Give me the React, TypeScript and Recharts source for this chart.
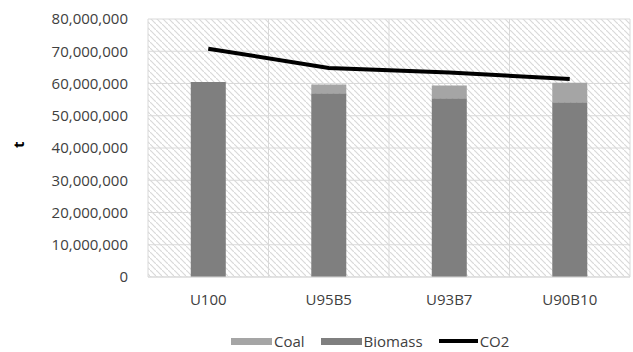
import { ComposedChart, Bar, Line, XAxis, YAxis, CartesianGrid } from 'recharts';

const scenarios = ['U100', 'U95B5', 'U93B7', 'U90B10'];
const biomass = [60500000, 57000000, 55400000, 54200000];
const coal = [0, 2700000, 4000000, 6000000];
const co2 = [70800000, 64800000, 63400000, 61400000];
const yTicks = [0, 10000000, 20000000, 30000000, 40000000, 50000000, 60000000, 70000000, 80000000];

const data = scenarios.map((name, i) => ({
  name,
  Biomass: biomass[i],
  Coal: coal[i],
  CO2: co2[i],
}));

const font = '"Open Sans", sans-serif';
const textColor = '#404040';

function LegendRow() {
  const item = (label: string, swatch: React.ReactNode) => (
    <div style={{ display: 'flex', alignItems: 'center', marginRight: 16 }}>
      {swatch}
      <span style={{ marginLeft: 2 }}>{label}</span>
    </div>
  );
  return (
    <div
      style={{
        position: 'absolute',
        top: 331,
        left: 231,
        display: 'flex',
        fontFamily: font,
        fontSize: 15,
        color: textColor,
      }}
    >
      {item('Coal', <div style={{ width: 41, height: 7, background: '#a5a5a5' }} />)}
      {item('Biomass', <div style={{ width: 41, height: 7, background: '#7f7f7f' }} />)}
      {item('CO2', <div style={{ width: 39, height: 4, background: '#000' }} />)}
    </div>
  );
}

export default function App() {
  return (
    <div style={{ position: 'absolute', top: 0, left: 0, width: 633, height: 352, background: '#fff' }}>
      <ComposedChart
        width={633}
        height={352}
        data={data}
        margin={{ top: 19, right: 3, bottom: 0, left: 0 }}
        barCategoryGap="35.5%"
      >
        <defs>
          <pattern id="hatch" patternUnits="userSpaceOnUse" width="6" height="6">
            <path d="M-1,-1 l2,2 M0,0 l6,6 M5,5 l2,2" stroke="#d9d9d9" strokeWidth={1.2} />
          </pattern>
        </defs>
        <CartesianGrid
          fill="url(#hatch)"
          stroke="#d9d9d9"
          strokeWidth={1}
          verticalCoordinatesGenerator={({ offset }: any) =>
            [0, 1, 2, 3, 4].map((k) => offset.left + (offset.width * k) / 4)
          }
        />
        <XAxis
          dataKey="name"
          height={75}
          axisLine={{ stroke: '#d9d9d9' }}
          tickLine={false}
          tickSize={0}
          tickMargin={17}
          tick={{ fontFamily: font, fontSize: 15, fill: textColor }}
        />
        <YAxis
          width={148}
          domain={[0, 80000000]}
          ticks={yTicks}
          interval={0}
          axisLine={false}
          tickLine={false}
          tickSize={0}
          tickMargin={20}
          tickFormatter={(v: number) => v.toLocaleString('en-US')}
          tick={{ fontFamily: font, fontSize: 15, fill: textColor }}
          label={{
            value: 't',
            angle: -90,
            position: 'insideLeft',
            offset: 19,
            style: { fontFamily: font, fontSize: 15, fill: '#000', fontWeight: 700 },
          }}
        />
        <Bar dataKey="Biomass" stackId="s" fill="#7f7f7f" isAnimationActive={false} />
        <Bar dataKey="Coal" stackId="s" fill="#a5a5a5" isAnimationActive={false} />
        <Line
          dataKey="CO2"
          type="linear"
          stroke="#000"
          strokeWidth={4}
          dot={false}
          isAnimationActive={false}
        />
      </ComposedChart>
      <LegendRow />
    </div>
  );
}
